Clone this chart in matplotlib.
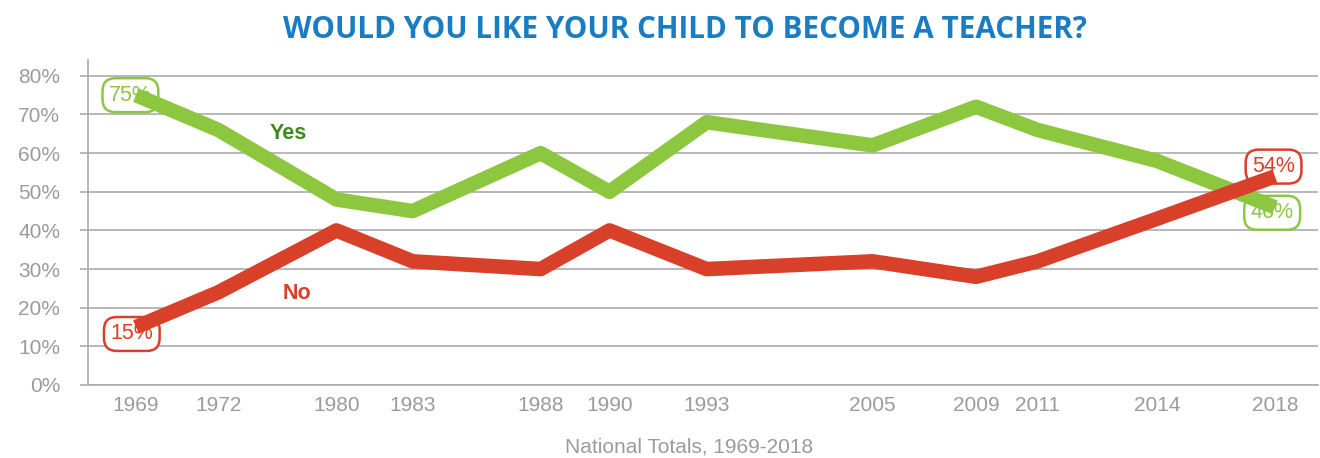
import matplotlib
matplotlib.use('Agg')
import matplotlib.pyplot as plt

# survey years and where each one sits along the (unevenly spaced) x axis
years = ['1969', '1972', '1980', '1983', '1988', '1990', '1993',
         '2005', '2009', '2011', '2014', '2018']
year_slots = [3.9, 10.6, 20.2, 26.4, 36.8, 42.4, 50.3, 63.8, 72.2, 77.2, 86.9, 96.5]

yes_pct = [75, 66, 48, 45, 60, 50, 68, 62, 72, 66, 58, 46]
no_pct = [15, 24, 40, 32, 30, 40, 30, 32, 28, 32, 43, 54]

green = '#8dc63f'
red = '#d9402a'
grey = '#9b9b9b'

plt.rcParams['font.family'] = ['Liberation Sans', 'DejaVu Sans']

fig = plt.figure(figsize=(13.2, 4.58), dpi=100)
ax = fig.add_axes([88 / 1320, 1 - 385 / 458, 1230 / 1320, 325 / 458])

ax.plot(year_slots, yes_pct, color=green, lw=10.5, solid_capstyle='butt',
        solid_joinstyle='round', zorder=4)
ax.plot(year_slots, no_pct, color=red, lw=10.5, solid_capstyle='butt',
        solid_joinstyle='round', zorder=5)

ax.set_xlim(0, 100)
ax.set_ylim(0, 84.1)
ax.set_yticks(range(0, 81, 10))
ax.set_yticklabels(['{}%'.format(v) for v in range(0, 81, 10)])
ax.set_xticks(year_slots)
ax.set_xticklabels(years)
ax.grid(axis='y', color='#ababab', lw=1.2)
ax.set_axisbelow(True)

for s in ['top', 'right']:
    ax.spines[s].set_visible(False)
for s in ['left', 'bottom']:
    ax.spines[s].set_color('#ababab')
    ax.spines[s].set_linewidth(1.2)

ax.tick_params(axis='y', colors=grey, labelsize=15, length=6, width=1.2,
               color='#ababab', pad=14)
ax.tick_params(axis='x', colors=grey, labelsize=15, length=0, pad=8)
for t in ax.get_yticklabels() + ax.get_xticklabels():
    t.set_color(grey)


def end_label(x, v, color, dx, dy):
    ax.annotate('{}%'.format(v), xy=(x, v), xytext=(dx, dy),
                textcoords='offset points', ha='center', va='center',
                fontsize=15.5, color=color, zorder=3,
                bbox=dict(boxstyle='round,pad=0.3,rounding_size=0.6',
                          fc='white', ec=color, lw=1.8))


end_label(year_slots[0], yes_pct[0], green, -4, 0)
end_label(year_slots[0], no_pct[0], red, -3, -5)
end_label(year_slots[-1], no_pct[-1], red, -1, 7)
end_label(year_slots[-1], yes_pct[-1], green, -2, -4)

ax.text(16.3, 65.0, 'Yes', color='#3d8b1c', fontsize=15.5, fontweight='bold',
        ha='center', va='center')
ax.text(17.0, 23.6, 'No', color=red, fontsize=15.5, fontweight='bold',
        ha='center', va='center')

fig.text(685 / 1320, 1 - 30 / 458, 'WOULD YOU LIKE YOUR CHILD TO BECOME A TEACHER?',
         color='#1a7dc2', fontsize=21.3, fontweight='bold', family='Open Sans',
         ha='center', va='center')
fig.text(689 / 1320, 1 - 447 / 458, 'National Totals, 1969-2018', color=grey,
         fontsize=15, ha='center', va='center')

fig.savefig('out.png', dpi=100)
